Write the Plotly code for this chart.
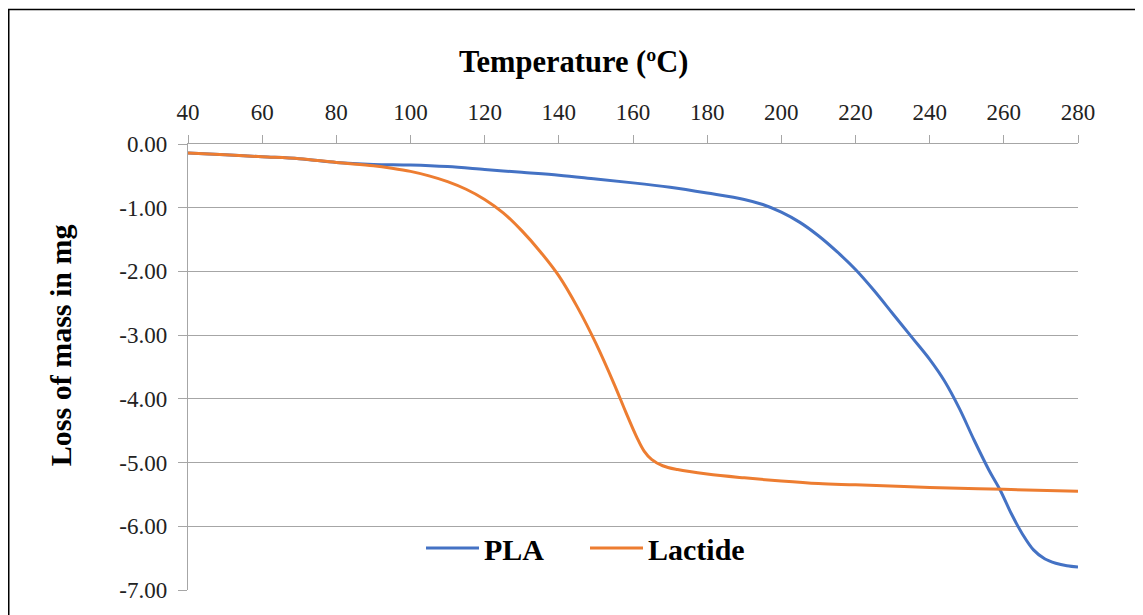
import plotly.graph_objects as go

# ---- data ----
pla_temp = [40, 50, 60, 70, 80, 90, 100, 110, 120, 130, 140, 150, 160, 170, 180, 190, 195, 200, 205, 210, 215, 220, 225, 230, 235, 240, 244, 248, 252, 256, 259, 262, 265, 268, 271, 274, 277, 280]
pla_mass = [-0.14, -0.17, -0.2, -0.23, -0.29, -0.32, -0.33, -0.355, -0.4, -0.445, -0.49, -0.55, -0.61, -0.68, -0.77, -0.87, -0.95, -1.07, -1.23, -1.44, -1.69, -1.97, -2.3, -2.66, -3.02, -3.38, -3.72, -4.15, -4.65, -5.12, -5.43, -5.8, -6.12, -6.37, -6.51, -6.58, -6.62, -6.64]

lac_temp = [40, 50, 60, 70, 80, 90, 95, 100, 105, 110, 115, 120, 125, 130, 135, 140, 145, 150, 155, 158, 161, 163, 165, 168, 172, 180, 190, 200, 210, 220, 240, 260, 280]
lac_mass = [-0.14, -0.17, -0.2, -0.23, -0.29, -0.34, -0.38, -0.43, -0.5, -0.59, -0.71, -0.87, -1.08, -1.36, -1.69, -2.07, -2.56, -3.13, -3.78, -4.2, -4.6, -4.82, -4.95, -5.05, -5.11, -5.18, -5.24, -5.29, -5.33, -5.35, -5.39, -5.42, -5.45]

x_ticks = [40, 60, 80, 100, 120, 140, 160, 180, 200, 220, 240, 260, 280]
y_ticks = [0, -1, -2, -3, -4, -5, -6, -7]
y_tick_text = ["0.00", "-1.00", "-2.00", "-3.00", "-4.00", "-5.00", "-6.00", "-7.00"]

FONT = "Liberation Serif, Times New Roman, serif"
GRID = "#a6a6a6"

fig = go.Figure()
fig.add_trace(go.Scatter(x=pla_temp, y=pla_mass, mode="lines", name="PLA",
                         line=dict(color="#4472C4", width=3, shape="spline", smoothing=1.0)))
fig.add_trace(go.Scatter(x=lac_temp, y=lac_mass, mode="lines", name="Lactide",
                         line=dict(color="#ED7D31", width=3, shape="spline", smoothing=1.0)))

fig.update_layout(
    width=1135, height=607,
    margin=dict(l=180, r=65, t=136, b=25),
    paper_bgcolor="white", plot_bgcolor="white",
    font=dict(family=FONT, color="#222222", size=23),
    showlegend=True,
    legend=dict(orientation="h", x=0.2618, xanchor="left", y=0.0942, yanchor="middle",
                bgcolor="rgba(0,0,0,0)", font=dict(family=FONT, size=30, color="black", weight="bold"),
                itemwidth=53, entrywidth=96, entrywidthmode="pixels", tracegroupgap=0),
    xaxis=dict(side="top", range=[40, 280], tickvals=x_ticks, showgrid=False,
               showline=True, linecolor=GRID, linewidth=1.3,
               ticks="outside", ticklen=8, tickcolor=GRID, tickwidth=1.3,
               ticklabelstandoff=6,
               tickfont=dict(family=FONT, size=23, color="#222222"), zeroline=False),
    yaxis=dict(range=[-7, 0], tickvals=y_ticks, ticktext=y_tick_text,
               showgrid=True, gridcolor=GRID, gridwidth=1.3,
               showline=True, linecolor=GRID, linewidth=1.3,
               ticks="outside", ticklen=9, tickcolor=GRID, tickwidth=1.3,
               ticklabelstandoff=6,
               tickfont=dict(family=FONT, size=23, color="#222222"), zeroline=False),
    annotations=[
        dict(text="<b>Temperature (ºC)</b>", xref="paper", yref="paper", x=0.4326, y=1.1839,
             xanchor="center", yanchor="middle", showarrow=False,
             font=dict(family=FONT, size=30.5, color="black")),
        dict(text="<b>Loss of mass in mg</b>", xref="paper", yref="paper", x=-0.1438, y=0.549,
             xanchor="center", yanchor="middle", showarrow=False, textangle=-90,
             font=dict(family=FONT, size=30, color="black")),
    ],
    shapes=[
        dict(type="path", xref="paper", yref="paper",
             path="M -0.2014,-0.2 L -0.2014,1.3016 L 1.08,1.3016",
             line=dict(color="black", width=1.5)),
    ],
)

fig.write_html("out.html")
